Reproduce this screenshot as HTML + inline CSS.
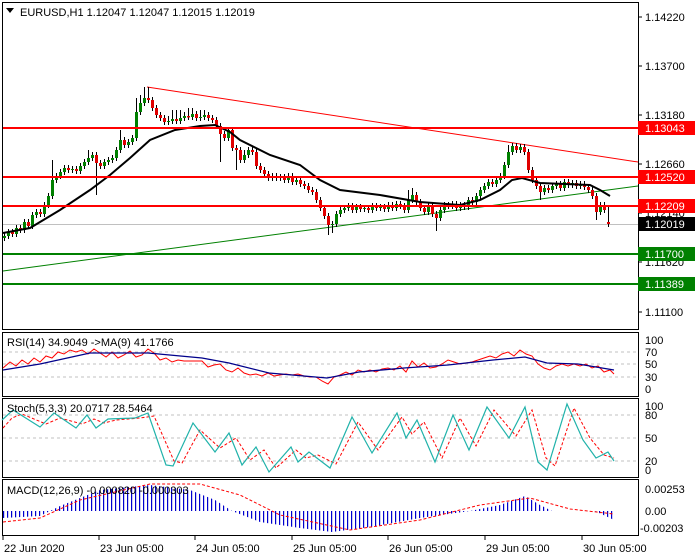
<!DOCTYPE html>
<html><head><meta charset="utf-8"><style>
html,body{margin:0;padding:0;background:#fff;width:700px;height:560px;overflow:hidden}
svg{display:block;font-family:"Liberation Sans",sans-serif;font-size:11px}
</style></head><body>
<svg width="700" height="560" xmlns="http://www.w3.org/2000/svg">
<defs>
<pattern id="vl" patternUnits="userSpaceOnUse" x="3" y="0" width="4" height="10"><rect x="0" y="0" width="1.2" height="10" fill="#0000cd"/></pattern>
</defs>
<rect x="2.5" y="2.5" width="636" height="327" fill="none" stroke="#000"/>
<rect x="2.5" y="332.5" width="636" height="64" fill="none" stroke="#000"/>
<rect x="2.5" y="398.5" width="636" height="79" fill="none" stroke="#000"/>
<rect x="2.5" y="479.5" width="636" height="56" fill="none" stroke="#000"/>

<g stroke="#000">
<line x1="638" y1="17" x2="642" y2="17"/><line x1="638" y1="66" x2="642" y2="66"/><line x1="638" y1="115" x2="642" y2="115"/><line x1="638" y1="164" x2="642" y2="164"/><line x1="638" y1="213" x2="642" y2="213"/><line x1="638" y1="262" x2="642" y2="262"/><line x1="638" y1="312" x2="642" y2="312"/>
</g>
<text x="645" y="21">1.14220</text><text x="645" y="70">1.13700</text><text x="645" y="119">1.13180</text><text x="645" y="168">1.12660</text><text x="645" y="217">1.12140</text><text x="645" y="266">1.11620</text><text x="645" y="316">1.11100</text>

<line x1="3" y1="224.5" x2="638" y2="224.5" stroke="#c0c0c0"/>
<line x1="147" y1="87" x2="638" y2="162" stroke="#f00"/>
<line x1="3" y1="271" x2="638" y2="186" stroke="#008000"/>

<!-- wicks -->
<path fill="none" stroke="#000" stroke-width="1" d="M4.5 233V241M8.5 229V239M12.5 229V237M16.5 225V237M20.5 225V233M24.5 219V233M28.5 219V229M32.5 212V229M36.5 209V218M40.5 209V217M44.5 202V217M48.5 193V208M52.5 160V199M56.5 173V183M60.5 169V179M64.5 165V175M68.5 165V173M72.5 166V173M76.5 166V174M80.5 163V174M84.5 159V169M88.5 150V165M92.5 152V161M96.5 152V195M100.5 160V169M104.5 159V169M108.5 157V165M112.5 155V163M116.5 147V161M120.5 130V153M124.5 137V148M128.5 139V148M132.5 135V145M136.5 98V141M140.5 95V115M144.5 87V106M148.5 87V103M152.5 97V111M156.5 105V118M160.5 112V121M164.5 115V125M168.5 116V125M172.5 110V124M176.5 110V124M180.5 110V124M184.5 112V121M188.5 108V120M192.5 108V120M196.5 111V121M200.5 110V121M204.5 110V120M208.5 112V121M212.5 115V123M216.5 117V129M220.5 123V162M224.5 131V141M228.5 127V141M232.5 127V151M236.5 145V170M240.5 147V163M244.5 150V163M248.5 147V158M252.5 147V155M256.5 149V169M260.5 163V173M264.5 167V177M268.5 171V181M272.5 173V181M276.5 173V181M280.5 174V181M284.5 174V183M288.5 173V183M292.5 173V185M296.5 177V185M300.5 177V187M304.5 181V189M308.5 183V193M312.5 187V195M316.5 189V203M320.5 197V211M324.5 205V219M328.5 213V235M332.5 221V233M336.5 211V227M340.5 207V217M344.5 205V213M348.5 203V211M352.5 203V213M356.5 204V213M360.5 204V212M364.5 205V212M368.5 205V213M372.5 203V213M376.5 203V211M380.5 204V211M384.5 204V212M388.5 202V212M392.5 202V211M396.5 201V211M400.5 201V209M404.5 203V213M408.5 190V213M412.5 188V203M416.5 192V205M420.5 199V211M424.5 205V215M428.5 203V215M432.5 203V217M436.5 211V231M440.5 207V221M444.5 202V213M448.5 202V209M452.5 201V209M456.5 201V211M460.5 202V211M464.5 202V210M468.5 197V210M472.5 197V205M476.5 193V205M480.5 187V199M484.5 183V193M488.5 179V189M492.5 179V187M496.5 177V187M500.5 173V183M504.5 162V179M508.5 145V168M512.5 143V155M516.5 143V153M520.5 144V153M524.5 144V155M528.5 149V173M532.5 167V183M536.5 177V189M540.5 183V200M544.5 185V195M548.5 185V193M552.5 183V193M556.5 181V189M560.5 181V191M564.5 179V191M568.5 179V188M572.5 180V188M576.5 180V189M580.5 181V189M584.5 181V190M588.5 184V193M592.5 187V199M596.5 193V220M600.5 202V215M604.5 202V213M608.5 207V227"/>
<!-- bull bodies -->
<path fill="none" stroke="#008000" stroke-width="3" d="M4.5 238V236M8.5 236V232M16.5 234V228M24.5 230V222M32.5 226V215M36.5 215V212M44.5 214V205M48.5 205V196M52.5 196V180M56.5 180V176M60.5 176V172M64.5 172V168M72.5 170V169M80.5 171V166M84.5 166V162M88.5 162V158M92.5 158V155M104.5 166V162M108.5 162V160M112.5 160V158M116.5 158V150M120.5 150V140M128.5 145V142M132.5 142V138M136.5 138V112M140.5 112V103M144.5 103V98M168.5 122V121M172.5 121V119M180.5 121V118M184.5 118V116M192.5 117V114M200.5 118V117M204.5 117V115M228.5 138V130M244.5 160V155M248.5 155V150M272.5 178V176M280.5 178V177M288.5 180V176M296.5 182V180M332.5 225V224M336.5 224V214M340.5 214V210M344.5 210V208M348.5 208V206M356.5 210V207M364.5 209V208M372.5 210V206M380.5 208V207M388.5 209V205M396.5 208V204M408.5 210V200M412.5 200V195M428.5 212V206M440.5 218V210M444.5 210V205M452.5 206V204M460.5 208V205M468.5 207V200M476.5 202V196M480.5 196V190M484.5 190V186M488.5 186V182M496.5 184V180M500.5 180V176M504.5 176V165M508.5 165V152M512.5 152V146M520.5 150V147M544.5 192V188M552.5 190V186M556.5 186V184M564.5 188V182M572.5 185V183M580.5 186V184M600.5 212V205"/>
<!-- bear bodies -->
<path fill="none" stroke="#e00000" stroke-width="3" d="M12.5 232V234M20.5 228V230M28.5 222V226M40.5 212V214M68.5 168V170M76.5 169V171M96.5 155V163M100.5 163V166M124.5 140V145M148.5 98V100M152.5 100V108M156.5 108V115M160.5 115V118M164.5 118V122M176.5 119V121M188.5 116V117.5M196.5 114V118M208.5 115V118M212.5 118V120M216.5 120V126M220.5 126V134M224.5 134V138M232.5 130V148M236.5 148V150M240.5 150V160M252.5 150V152M256.5 152V166M260.5 166V170M264.5 170V174M268.5 174V178M276.5 176V178M284.5 177V180M292.5 176V182M300.5 180V184M304.5 184V186M308.5 186V190M312.5 190V192M316.5 192V200M320.5 200V208M324.5 208V216M328.5 216V225M352.5 206V210M360.5 207V209M368.5 208V210M376.5 206V208M384.5 207V209M392.5 205V208M400.5 204V206M404.5 206V210M416.5 195V202M420.5 202V208M424.5 208V212M432.5 206V214M436.5 214V218M448.5 205V206.5M456.5 204V208M464.5 205V207M472.5 200V202M492.5 182V184M516.5 146V150M524.5 147V152M528.5 152V170M532.5 170V180M536.5 180V186M540.5 186V192M548.5 188V190M560.5 184V188M568.5 182V185M576.5 183V186M584.5 184V187M588.5 187V190M592.5 190V196M596.5 196V212M604.5 205V210M608.5 222V224"/>

<polyline points="3,233 30,228 60,210 90,190 110,175 130,158 150,140 175,130 200,126 215,125 230,132 240,140 270,155 300,165 320,180 340,190 380,195 420,202 460,205 480,200 500,190 512,180 522,178 540,183 590,185 600,190 610,196" fill="none" stroke="#000" stroke-width="2"/>

<g stroke-width="2">
<line x1="3" y1="128" x2="638" y2="128" stroke="#f00"/>
<line x1="3" y1="177" x2="638" y2="177" stroke="#f00"/>
<line x1="3" y1="206" x2="638" y2="206" stroke="#f00"/>
<line x1="3" y1="254" x2="638" y2="254" stroke="#008000"/>
<line x1="3" y1="284" x2="638" y2="284" stroke="#008000"/>
</g>
<rect x="638" y="121" width="57" height="14" fill="#f00"/><text x="645" y="132" fill="#fff">1.13043</text>
<rect x="638" y="170" width="57" height="14" fill="#f00"/><text x="645" y="181" fill="#fff">1.12520</text>
<rect x="638" y="199" width="57" height="14" fill="#f00"/><text x="645" y="210" fill="#fff">1.12209</text>
<rect x="638" y="217" width="57" height="14" fill="#000"/><text x="645" y="228" fill="#fff">1.12019</text>
<rect x="638" y="247" width="57" height="14" fill="#008000"/><text x="645" y="258" fill="#fff">1.11700</text>
<rect x="638" y="277" width="57" height="14" fill="#008000"/><text x="645" y="288" fill="#fff">1.11389</text>

<path d="M6 8 L14 8 L10 13 Z" fill="#000"/>
<text x="20" y="16">EURUSD,H1  1.12047 1.12047 1.12015 1.12019</text>

<!-- RSI -->
<g stroke="#c0c0c0" stroke-dasharray="3,3"><line x1="3" y1="352" x2="638" y2="352"/><line x1="3" y1="364" x2="638" y2="364"/><line x1="3" y1="377" x2="638" y2="377"/></g>
<text x="645" y="344">100</text><text x="645" y="356">70</text><text x="645" y="368">50</text><text x="645" y="381">30</text><text x="645" y="393">0</text>
<polyline fill="none" stroke="#f00" points="3,368 10,362 16,366 22,360 28,364 34,358 40,362 46,356 52,358 58,352 64,354 70,350 76,352 82,350 88,354 94,349 100,353 106,357 112,352 118,358 124,355 130,351 136,357 142,355 148,349 154,353 160,360 166,358 172,362 178,360 184,361 190,361 196,361 202,361 208,367 214,365 220,364 226,370 232,372 238,368 244,373 250,375 256,374 262,376 268,373 274,376 280,375 286,374 292,375 298,374 304,376 310,377 316,377 322,381 328,384 334,377 340,375 346,372 352,375 358,370 364,372 370,370 376,372 382,369 388,368 394,370 400,366 406,372 412,361 418,367 424,363 430,368 436,367 442,364 448,360 454,362 460,364 466,363 472,362 478,360 484,358 490,356 496,358 502,354 508,352 514,356 520,350 526,354 532,356 538,364 544,368 550,370 556,366 562,364 568,366 574,364 580,366 586,364 592,368 598,366 604,372 610,370 614,374"/>
<polyline fill="none" stroke="#00008b" stroke-width="1.3" points="3,370 40,364 90,353 148,353 202,358 229,363 269,373 327,378 359,372 404,368 448,365 493,360 525,357 547,363 578,364 614,370"/>
<text x="7" y="346">RSI(14) 34.9049  -&gt;MA(9) 41.1766</text>

<!-- Stoch -->
<g stroke="#c0c0c0" stroke-dasharray="3,3"><line x1="3" y1="415" x2="638" y2="415"/><line x1="3" y1="438" x2="638" y2="438"/><line x1="3" y1="461" x2="638" y2="461"/></g>
<text x="645" y="410">100</text><text x="645" y="419">80</text><text x="645" y="442">50</text><text x="645" y="465">20</text><text x="645" y="474">0</text>
<polyline fill="none" stroke="#f00" stroke-dasharray="3,2" points="3,428 12,418 22,414 46,424 60,418 82,424 94,419 104,423 116,420 140,418 154,416 174,461 182,463 200,430 220,448 236,438 250,460 264,450 276,468 296,450 306,458 318,455 336,464 358,422 378,450 402,417 412,434 424,422 442,458 460,418 476,446 494,410 516,436 532,410 546,458 555,466 574,408 590,438 604,455 614,458"/>
<polyline fill="none" stroke="#20b2aa" stroke-width="1.2" points="2,420 13,410 40,427 54,413 76,428 87,415 96,428 108,419 135,418 148,413 166,465 173,466 193,423 215,452 229,433 242,465 256,447 269,472 291,447 298,462 309,452 330,468 352,417 372,453 397,413 406,438 417,420 435,462 453,415 469,450 487,407 509,438 525,407 538,462 547,470 567,404 583,440 596,458 608,452 614,461"/>
<text x="7" y="412">Stoch(5,3,3) 20.0717 28.5464</text>

<!-- MACD -->
<text x="645" y="493">0.00253</text><text x="645" y="515">0.00</text><text x="640" y="532">-0.00203</text>
<polygon fill="url(#vl)" points="3,511 3,518 40,516 50,511 60,506 100,490 150,485 190,490 215,500 232,511 260,522 300,528 332,532 370,527 420,518 470,511 500,505 525,496 540,505 552,511 595,511 614,520 615,511"/>
<polyline fill="none" stroke="#f00" stroke-dasharray="3,2" points="3,522 40,518 80,500 150,484 200,484 240,495 280,515 350,530 420,520 480,505 530,498 570,509 614,514"/>
<text x="7" y="494">MACD(12,26,9) -0.000820 -0.000303</text>

<!-- time axis -->
<g stroke="#000"><line x1="3" y1="536" x2="3" y2="540"/><line x1="99" y1="536" x2="99" y2="540"/><line x1="195" y1="536" x2="195" y2="540"/><line x1="292" y1="536" x2="292" y2="540"/><line x1="388" y1="536" x2="388" y2="540"/><line x1="485" y1="536" x2="485" y2="540"/><line x1="582" y1="536" x2="582" y2="540"/></g>
<text x="4" y="552">22 Jun 2020</text><text x="100" y="552">23 Jun 05:00</text><text x="196" y="552">24 Jun 05:00</text><text x="293" y="552">25 Jun 05:00</text><text x="389" y="552">26 Jun 05:00</text><text x="486" y="552">29 Jun 05:00</text><text x="583" y="552">30 Jun 05:00</text>
</svg>
</body></html>
